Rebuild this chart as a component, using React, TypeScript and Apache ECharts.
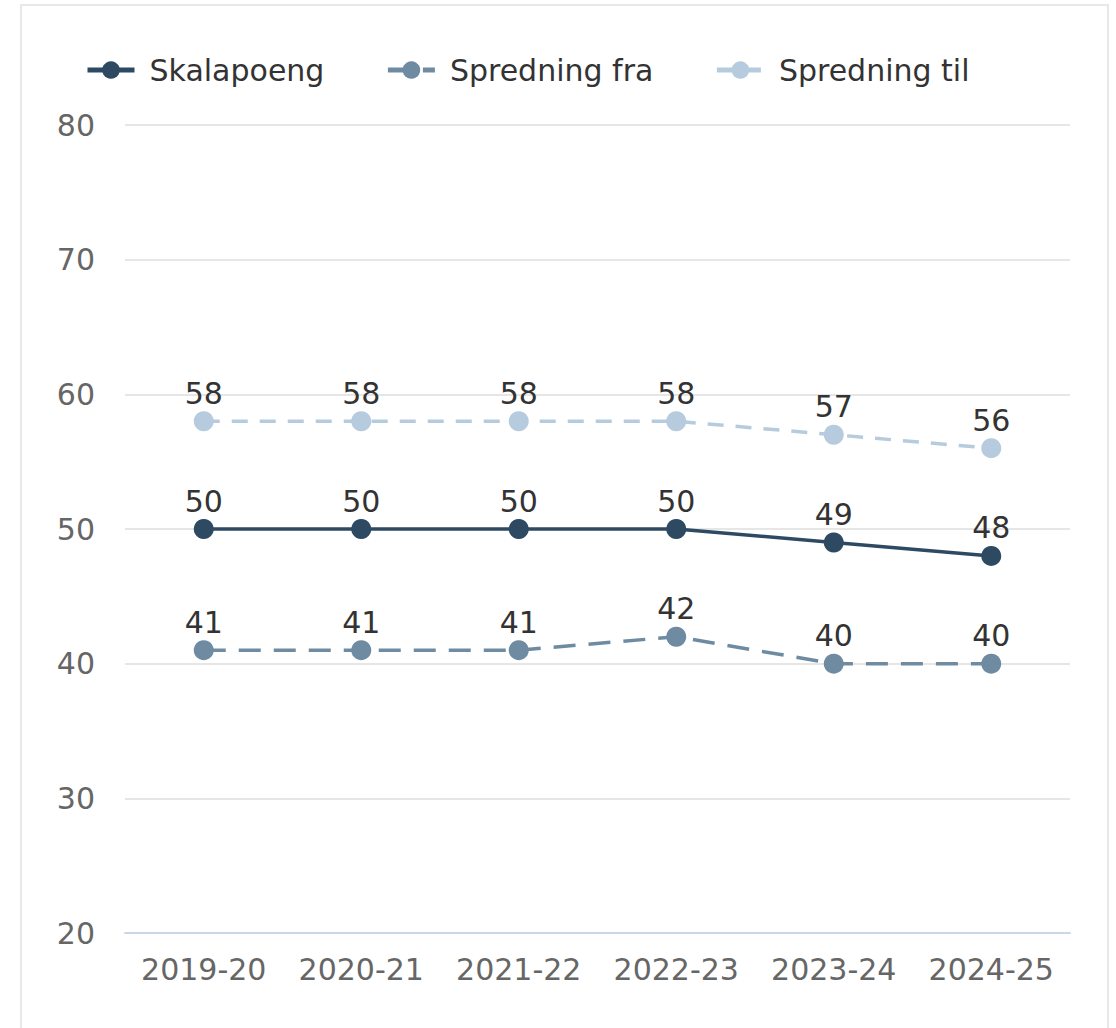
import React, { useEffect, useRef } from "react";
import * as echarts from "echarts";

const categories = ["2019-20", "2020-21", "2021-22", "2022-23", "2023-24", "2024-25"];
const skalapoeng = [50, 50, 50, 50, 49, 48];
const spredningFra = [41, 41, 41, 42, 40, 40];
const spredningTil = [58, 58, 58, 58, 57, 56];
const seriesNames = ["Skalapoeng", "Spredning fra", "Spredning til"];
const colors = ["#2e4a62", "#6f8ba1", "#b6cbdd"];

export default function App() {
  const ref = useRef<HTMLDivElement>(null);
  useEffect(() => {
    const chart = echarts.init(ref.current!, null, { renderer: "svg" });
    const font = "'DejaVu Sans', 'Liberation Sans', Arial, sans-serif";
    const mk = (name: string, data: number[], color: string, type: any) => ({
      name,
      type: "line",
      data,
      symbol: "circle",
      symbolSize: 20,
      itemStyle: { color },
      lineStyle: { color, width: 3.5, type },
      label: {
        show: true,
        position: "top",
        distance: 3,
        color: "#333333",
        fontSize: 30,
        fontFamily: font,
      },
    });
    chart.setOption({
      animation: false,
      backgroundColor: "#ffffff",
      color: colors,
      textStyle: { fontFamily: font },
      graphic: [
        {
          type: "rect",
          shape: { x: 21, y: 5, width: 1087, height: 1040 },
          style: { fill: "none", stroke: "#e8e8e8", lineWidth: 2 },
          silent: true,
        },
      ],
      legend: {
        left: 80,
        top: 50,
        itemWidth: 47,
        itemHeight: 22,
        itemGap: 61,
        data: seriesNames,
        lineStyle: { width: 5 },
        textStyle: { fontSize: 30, color: "#333333", fontFamily: font, padding: [0, 0, 0, 10] },
      },
      grid: { left: 125, right: 46, top: 125, bottom: 95, containLabel: false },
      xAxis: {
        type: "category",
        data: categories,
        boundaryGap: true,
        axisLine: { lineStyle: { color: "#ccd6eb", width: 2 } },
        axisTick: { show: false },
        axisLabel: {
          color: "#666666",
          fontSize: 30,
          margin: 21,
          fontFamily: font,
          interval: 0,
          hideOverlap: false,
        },
      },
      yAxis: {
        type: "value",
        min: 20,
        max: 80,
        interval: 10,
        axisLine: { show: false },
        axisTick: { show: false },
        axisLabel: { color: "#666666", fontSize: 30, margin: 30, fontFamily: font },
        splitLine: { lineStyle: { color: "#e6e6e6", width: 2 } },
      },
      series: [
        mk(seriesNames[0], skalapoeng, colors[0], "solid"),
        mk(seriesNames[1], spredningFra, colors[1], [22, 13]),
        mk(seriesNames[2], spredningTil, colors[2], [16, 12]),
      ],
    });
    return () => chart.dispose();
  }, []);
  return (
    <div
      ref={ref}
      style={{ position: "fixed", left: 0, top: 0, width: 1116, height: 1028 }}
    />
  );
}
